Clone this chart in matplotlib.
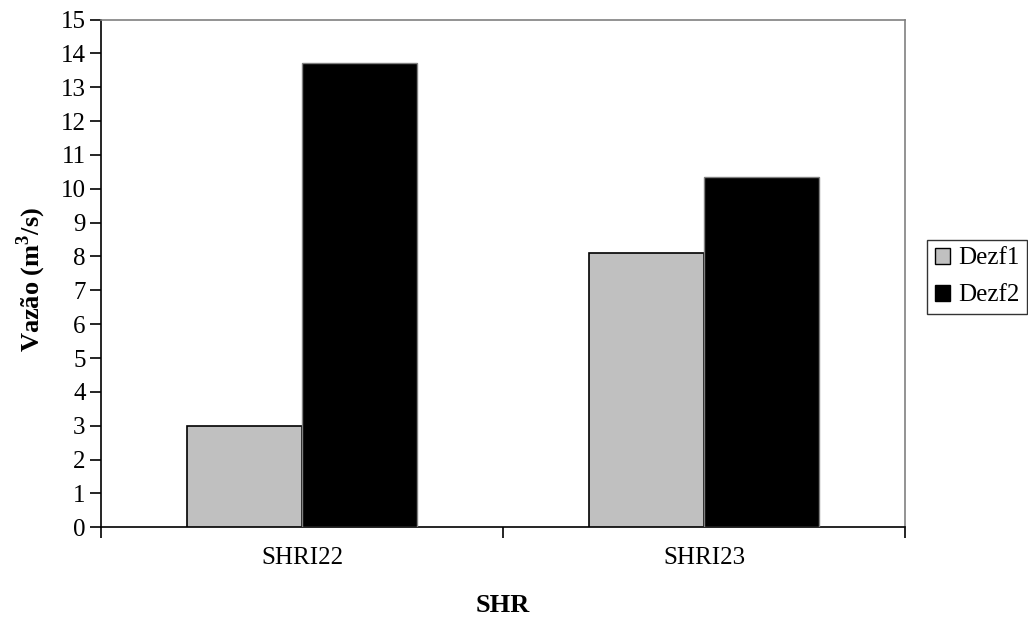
import matplotlib
matplotlib.use("Agg")
import matplotlib.pyplot as plt
import numpy as np
from matplotlib.patches import Patch

categories = ["SHRI22", "SHRI23"]
series_names = ["Dezf1", "Dezf2"]
dezf1 = [3.0, 8.1]
dezf2 = [13.72, 10.36]
yticks = list(range(0, 16))

plt.rcParams['font.family'] = ['Liberation Serif', 'DejaVu Serif']
plt.rcParams['mathtext.fontset'] = 'custom'
plt.rcParams['mathtext.rm'] = 'Liberation Serif'
plt.rcParams['mathtext.bf'] = 'Liberation Serif:bold'

W, H = 1028, 619
fig = plt.figure(figsize=(W/100, H/100), dpi=100)
ax = fig.add_axes([101/W, 1-527.3/H, (905.3-101)/W, (527.3-19.5)/H])

x = np.arange(len(categories))
bw = 1/3.5
ax.bar(x - bw/2, dezf1, width=bw, color='#C0C0C0', edgecolor='black', linewidth=1.2, label=series_names[0], zorder=3)
ax.bar(x + bw/2, dezf2, width=bw, color='black', edgecolor='#808080', linewidth=1.0, label=series_names[1], zorder=3)

ax.set_xlim(-0.5, len(categories) - 0.5)
ax.set_ylim(0, 15)
ax.set_yticks(yticks)
ax.set_yticklabels([str(v) for v in yticks], fontsize=18)
ax.tick_params(axis='y', direction='out', length=8, width=1.2, pad=3)

ax.set_xticks(np.arange(-0.5, len(categories), 1.0))
ax.set_xticklabels([])
ax.set_xticks(x, minor=True)
ax.set_xticklabels(categories, minor=True, fontsize=18)
ax.tick_params(axis='x', which='major', direction='out', length=8, width=1.2)
ax.tick_params(axis='x', which='minor', length=0, pad=14)

for s in ['left', 'bottom']:
    ax.spines[s].set_color('black')
    ax.spines[s].set_linewidth(1.2)
for s in ['top', 'right']:
    ax.spines[s].set_color('#808080')
    ax.spines[s].set_linewidth(1.2)

fig.text(31/W, 1-279/H, "Vazão (m$^{\\mathbf{3}}$/s)", fontsize=19, fontweight='bold',
         rotation=90, ha='center', va='center')
fig.text(503/W, 1-605/H, "SHR", fontsize=19, fontweight='bold', ha='center', va='center')

handles = [Patch(facecolor='#C0C0C0', edgecolor='black', linewidth=1.0),
           Patch(facecolor='black', edgecolor='black', linewidth=1.0)]
leg = fig.legend(handles, series_names, loc='center left',
                 bbox_to_anchor=(927/W, 1-277/H), fontsize=18,
                 frameon=True, fancybox=False, edgecolor='black',
                 handlelength=0.6, handleheight=0.6, handletextpad=0.35,
                 borderpad=0.3, labelspacing=0.6, borderaxespad=0)
leg.get_frame().set_linewidth(1.0)

fig.savefig("out.png", dpi=100)
